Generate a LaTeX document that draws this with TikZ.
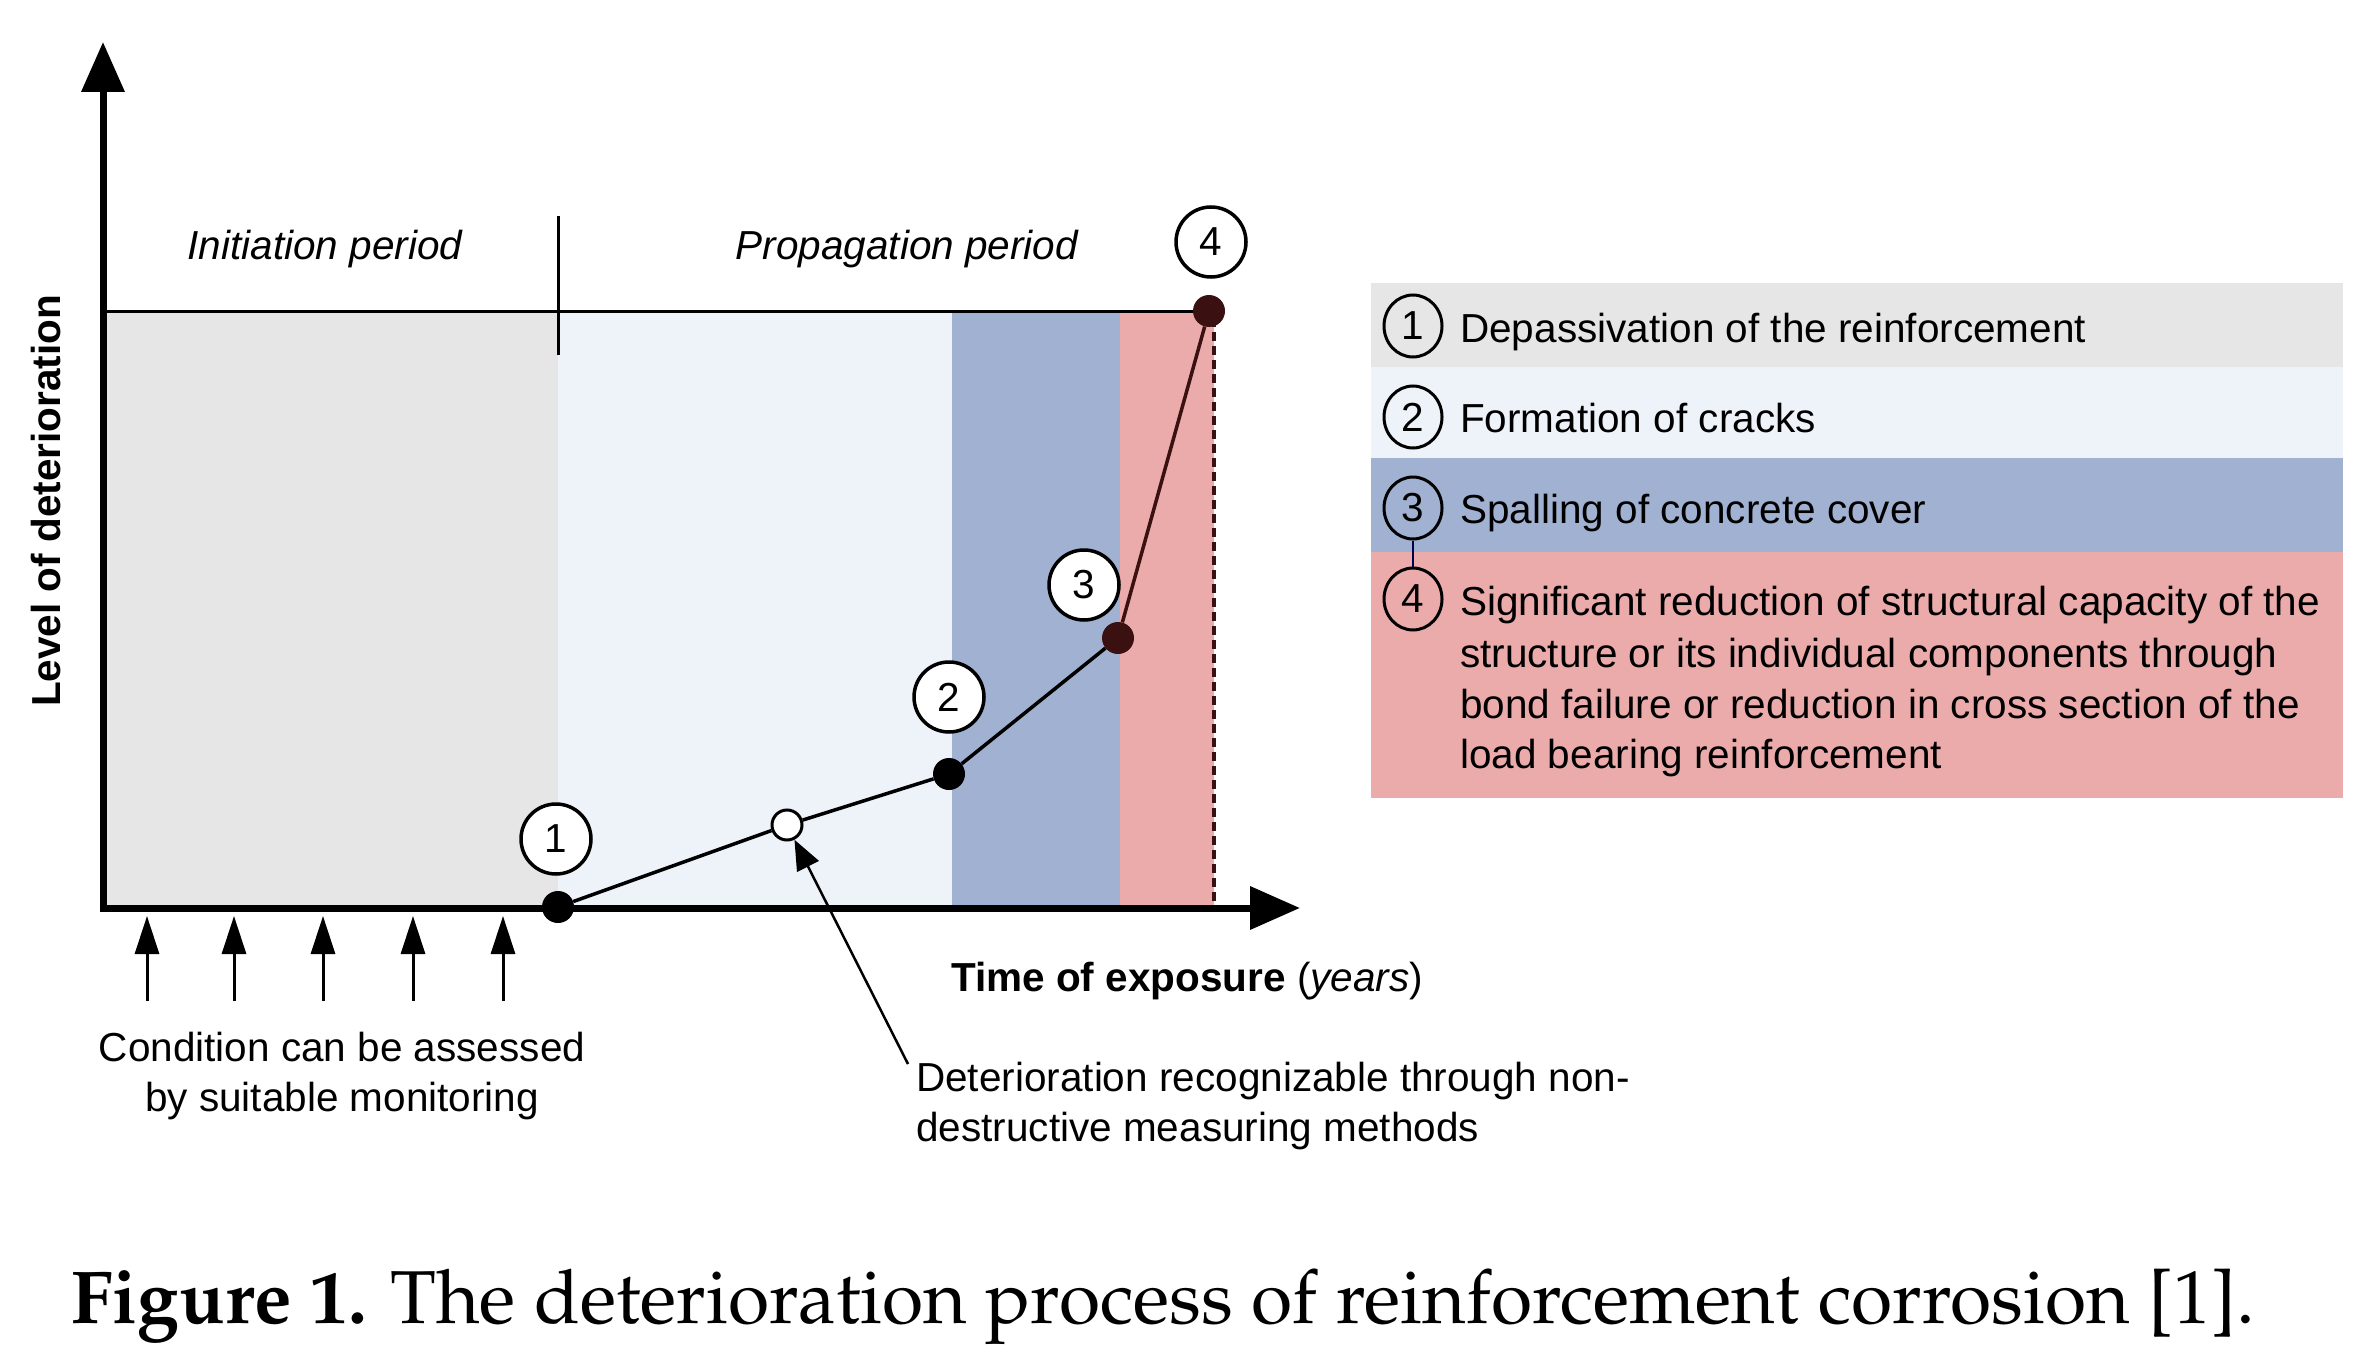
\documentclass[tikz,border=0pt]{standalone}
\usepackage{fontspec}
\setmainfont{Liberation Sans}
\usetikzlibrary{arrows.meta,shapes.geometric}
\definecolor{cgrey}{HTML}{E6E6E6}
\definecolor{clblue}{HTML}{EEF3F9}
\definecolor{cblue}{HTML}{A1B1D1}
\definecolor{cpink}{HTML}{EBABAB}
\definecolor{cdark}{HTML}{3A1010}
\begin{document}
\begin{tikzpicture}[x=1pt,y=-1pt,
  txt/.style={inner sep=0pt, font=\fontsize{40.5}{48}\selectfont},
  num/.style={circle, draw, line width=3.5pt, fill=white, minimum size=70pt, inner sep=0pt, font=\fontsize{40.5}{48}\selectfont},
  lnum/.style={ellipse, draw, line width=3pt, minimum width=58pt, minimum height=62pt, inner sep=0pt, font=\fontsize{40.5}{48}\selectfont},
  dot/.style={circle, fill=black, minimum size=32pt, inner sep=0pt},
  odot/.style={circle, draw, fill=white, line width=3pt, minimum size=30pt, inner sep=0pt},
  axis/.style={line width=7pt, -{Triangle[length=50pt,width=42pt]}},
  mon/.style={line width=3pt, -{Triangle[length=38pt,width=24pt]}},
  curve/.style={line width=3.5pt},
]
\useasboundingbox (0,0) rectangle (2370,1367);
\fill[white] (0,0) rectangle (2370,1367);

% regions
\fill[cgrey] (103,311) rectangle (558,908);
\fill[clblue] (558,311) rectangle (952,908);
\fill[cblue] (952,311) rectangle (1120,908);
\fill[cpink] (1120,311) rectangle (1214,908);

% coordinates
\coordinate (O) at (103,908);
\coordinate (ytip) at (103,42);
\coordinate (xtip) at (1300,908);
\coordinate (tl) at (103,311);
\coordinate (tr) at (1209,311);
\coordinate (dv1) at (558,216);
\coordinate (dv2) at (558,355);
\coordinate (ds1) at (1214,318);
\coordinate (ds2) at (1214,906);

\draw[line width=3pt] (tl) -- (tr);
\draw[line width=3pt] (dv1) -- (dv2);
\draw[line width=3.5pt, cdark, dash pattern=on 9pt off 5pt] (ds1) -- (ds2);

% axes
\draw[axis] (O) -- (ytip);
\draw[axis] ([xshift=-3.5pt]O) -- (xtip);

% points
\node[dot] (p1) at (558,907) {};
\node[odot] (po) at (787,825) {};
\node[dot] (p2) at (949,774) {};
\node[dot, fill=cdark] (p3) at (1118,638) {};
\node[dot, fill=cdark] (p4) at (1209,311) {};
\draw[curve] (p1) -- (po) -- (p2) -- (p3);
\draw[curve, cdark] (p3) -- (p4);

% number labels
\node[num] (n1) at (556,839) {1};
\node[num] (n2) at (949,697) {2};
\node[num] (n3) at (1084,585) {3};
\node[num] (n4) at (1211,242) {4};

% period labels
\node[txt, anchor=base] (ip) at (325,260) {\itshape Initiation period};
\node[txt, anchor=base] (pp) at (907,260) {\itshape Propagation period};
\node[txt, anchor=base, rotate=90] (yl) at (60,501) {\bfseries Level of deterioration};
\node[txt, anchor=base west] (xl) at (951,991) {{\bfseries Time of exposure} (\textit{years})};

% monitoring arrows
\foreach \i/\x in {a/147,b/234,c/323,d/413,e/503}{
  \coordinate (m\i0) at (\x,1001);
  \coordinate (m\i1) at (\x,916);
  \draw[mon] (m\i0) -- (m\i1);
}
\node[txt, anchor=base] (c1) at (342,1061) {Condition can be assessed};
\node[txt, anchor=base] (c2) at (342,1111) {by suitable monitoring};

% NDT pointer
\node[txt, anchor=base west] (d1) at (916,1091) {Deterioration recognizable through non-};
\node[txt, anchor=base west] (d2) at (916,1141) {destructive measuring methods};
\coordinate (dtail) at (908,1064);
\draw[line width=2.5pt, -{Triangle[length=30pt,width=24pt]}] (dtail) -- (po);

% legend
\fill[cgrey] (1371,283) rectangle (2343,367);
\fill[clblue] (1371,367) rectangle (2343,458);
\fill[cblue] (1371,458) rectangle (2343,552);
\fill[cpink] (1371,552) rectangle (2343,798);
\node[lnum] (l1) at (1413,326) {1};
\node[lnum] (l2) at (1413,417) {2};
\node[lnum] (l3) at (1413,508) {3};
\node[lnum] (l4) at (1413,599) {4};
\draw[line width=1.5pt, black!70!blue] (l3.south) -- (l4.north);
\node[txt, anchor=base west] (t1) at (1460,342) {Depassivation of the reinforcement};
\node[txt, anchor=base west] (t2) at (1460,432) {Formation of cracks};
\node[txt, anchor=base west] (t3) at (1460,523) {Spalling of concrete cover};
\node[txt, anchor=base west] (t4a) at (1460,615) {Significant reduction of structural capacity of the};
\node[txt, anchor=base west] (t4b) at (1460,667) {structure or its individual components through};
\node[txt, anchor=base west] (t4c) at (1460,718) {bond failure or reduction in cross section of the};
\node[txt, anchor=base west] (t4d) at (1460,768) {load bearing reinforcement};

% caption
\node[inner sep=0pt, anchor=base west] (cap) at (71,1323)
  {\fontencoding{OT1}\fontfamily{ppl}\fontsize{75}{90}\selectfont\textbf{Figure 1.} The deterioration process of reinforcement corrosion [1].};
\end{tikzpicture}
\end{document}
